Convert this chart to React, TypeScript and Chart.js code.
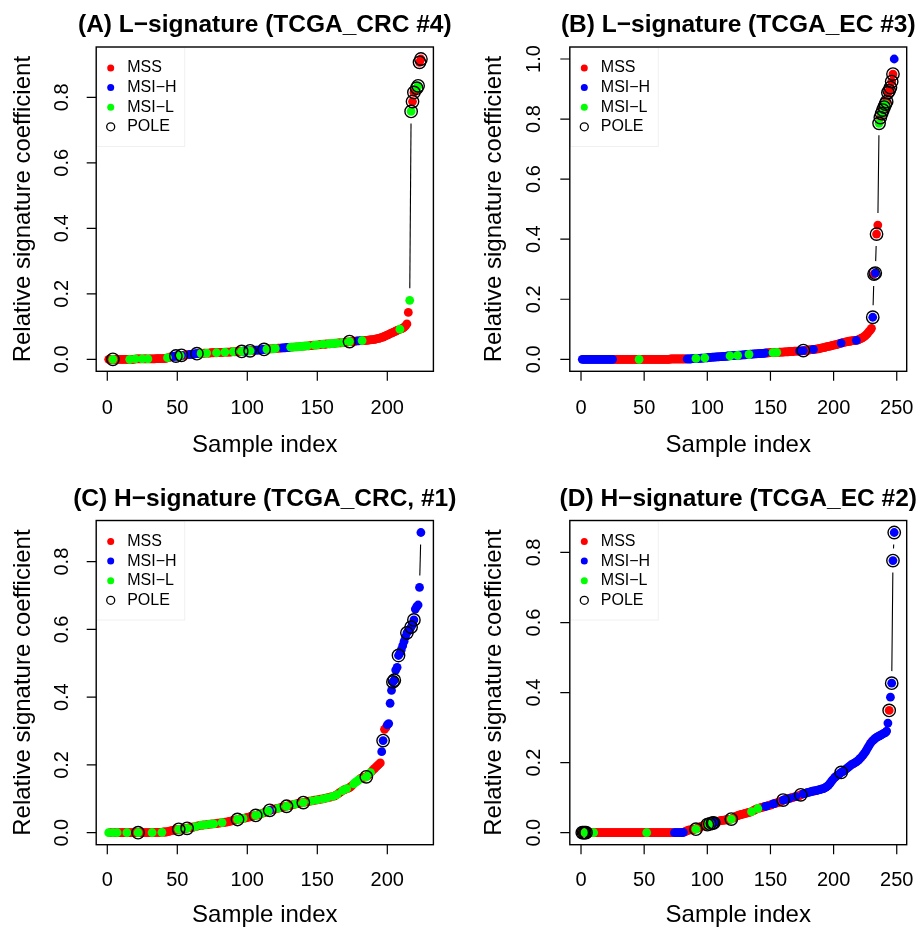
import React, { useEffect, useRef } from "react";
import { Chart, registerables } from "chart.js";
Chart.register(...registerables);

const FONT = '"Liberation Sans", Arial, Helvetica, sans-serif';

// ---------------- Panel A: L-signature (TCGA_CRC #4) ----------------
const valuesA = [
  0, 0, 0, 0, 0, 0, 0, 0, 0, 0,
  0, 0, 0, 0, 0, 0, 0, 0, 0, 0.001,
  0.001, 0.001, 0.001, 0.001, 0.001, 0.001, 0.001, 0.001, 0.001, 0.001,
  0.001, 0.001, 0.001, 0.001, 0.002, 0.002, 0.002, 0.002, 0.002, 0.002, 0.003, 0.003,
  0.005, 0.006, 0.007, 0.008, 0.009, 0.009, 0.010,
  0.010, 0.011, 0.011, 0.012, 0.012, 0.013, 0.013, 0.014, 0.014, 0.015, 0.015, 0.016, 0.016, 0.017, 0.017,
  0.018, 0.018, 0.018, 0.018, 0.019, 0.019, 0.019, 0.019, 0.019, 0.020, 0.020, 0.020, 0.020, 0.020, 0.021, 0.021,
  0.021, 0.021, 0.021, 0.022, 0.022, 0.022, 0.022, 0.022, 0.023, 0.023, 0.023, 0.023, 0.023, 0.024, 0.024,
  0.024, 0.025, 0.025, 0.025, 0.026, 0.026, 0.026, 0.027, 0.027, 0.027, 0.028, 0.028, 0.028, 0.029, 0.029, 0.030, 0.030, 0.031,
  0.031, 0.031, 0.032, 0.032, 0.032, 0.033, 0.033, 0.033, 0.034, 0.034, 0.034, 0.035, 0.035, 0.035, 0.036, 0.036, 0.036,
  0.037, 0.037, 0.037, 0.038, 0.038, 0.038, 0.039, 0.039, 0.039, 0.040, 0.040, 0.041, 0.041, 0.041, 0.042, 0.042,
  0.043, 0.043, 0.043, 0.044, 0.044, 0.045, 0.045, 0.046,
  0.046, 0.046, 0.047, 0.047, 0.047, 0.048, 0.048, 0.048, 0.049, 0.049, 0.050, 0.050, 0.050, 0.051, 0.051, 0.052, 0.052, 0.053, 0.054,
  0.054, 0.055, 0.055, 0.055, 0.056, 0.056, 0.056, 0.057, 0.057, 0.057, 0.058, 0.058, 0.058, 0.059, 0.059, 0.060, 0.060,
  0.061, 0.062, 0.063, 0.064, 0.065, 0.067, 0.068, 0.070, 0.072, 0.074,
  0.076, 0.078, 0.080, 0.082, 0.084, 0.086, 0.088, 0.090, 0.092, 0.093,
  0.095, 0.098, 0.102, 0.108,
  0.143, 0.180, 0.757, 0.787, 0.815, 0.822, 0.828, 0.835, 0.907, 0.917,
];
const msiHA = [47, 48, 49, 50, 51, 53, 59, 60, 61, 62, 63, 64, 97, 98, 99, 100, 101, 106, 107, 108, 109, 110, 111, 112, 125, 126, 127, 128, 129, 130, 179, 181];
const msiLA = [4, 16, 20, 25, 29, 43, 52, 67, 71, 78, 84, 90, 96, 102, 114, 118, 120, 131, 133, 134, 136, 137, 139, 140, 142, 143, 148, 150, 154, 158, 160, 161, 163, 164, 168, 173, 182, 209, 216, 217, 221, 222];
const poleA = [4, 49, 53, 64, 96, 102, 112, 173, 217, 218, 219, 221, 222, 223, 224];

// ---------------- Panel B: L-signature (TCGA_EC #3) ----------------
const valuesB = [
  0, 0, 0, 0, 0, 0, 0, 0, 0, 0, 0, 0, 0, 0, 0, 0, 0, 0, 0, 0, 0, 0, 0, 0, 0,
  0, 0, 0, 0, 0, 0, 0, 0, 0, 0, 0, 0, 0, 0, 0, 0, 0, 0, 0, 0, 0, 0, 0, 0, 0, 0, 0, 0, 0, 0, 0, 0, 0, 0, 0,
  0, 0, 0, 0, 0, 0, 0, 0, 0, 0,
  0.001, 0.001, 0.001, 0.001, 0.001, 0.001, 0.001, 0.001, 0.001, 0.001, 0.001, 0.001, 0.001, 0.001, 0.001,
  0.001, 0.001, 0.002, 0.002, 0.002, 0.003, 0.003, 0.003, 0.003, 0.004, 0.004, 0.004, 0.005, 0.005, 0.005,
  0.006, 0.006, 0.006, 0.007, 0.007, 0.007, 0.008, 0.008, 0.008, 0.009, 0.009, 0.009, 0.010, 0.010, 0.010,
  0.011, 0.011, 0.011, 0.012, 0.012, 0.012, 0.013, 0.013, 0.013, 0.014,
  0.014, 0.014, 0.015, 0.015, 0.015, 0.016, 0.016, 0.016, 0.017, 0.017, 0.017, 0.018, 0.018, 0.018, 0.019,
  0.019, 0.019, 0.020, 0.020, 0.020, 0.021, 0.021, 0.021, 0.022, 0.022,
  0.022, 0.022, 0.023, 0.023, 0.023, 0.023, 0.024, 0.024, 0.024, 0.024, 0.025, 0.025, 0.025, 0.025, 0.026,
  0.026, 0.026, 0.026, 0.027, 0.027, 0.027, 0.027, 0.028, 0.028, 0.028, 0.029,
  0.029, 0.030, 0.030, 0.031, 0.031, 0.032, 0.032, 0.033, 0.033, 0.034, 0.035, 0.035, 0.036, 0.037, 0.038,
  0.039, 0.040, 0.041, 0.042, 0.043, 0.044, 0.045, 0.046, 0.047, 0.048, 0.049, 0.050, 0.051, 0.053,
  0.054, 0.055, 0.056, 0.057, 0.058, 0.059, 0.060, 0.060, 0.061, 0.062, 0.062, 0.063, 0.063, 0.064,
  0.066, 0.068, 0.070, 0.072, 0.075, 0.078, 0.082, 0.087, 0.092, 0.097, 0.103,
  0.140, 0.284, 0.287, 0.417,
  0.447, 0.786, 0.805, 0.818, 0.830, 0.840, 0.850, 0.858, 0.888, 0.895, 0.905, 0.925, 0.950, 1.000,
];
const msiHB = [
  1, 2, 3, 4, 5, 6, 7, 8, 9, 10, 11, 12, 13, 14, 15, 16, 17, 18, 19, 20, 21, 22, 23, 24, 25,
  84, 85, 86, 87, 88, 89, 90, 92, 93, 94, 95, 96, 97, 99, 100, 101, 102, 104, 105, 106, 107, 108, 109,
  111, 112, 113, 114, 115, 116, 117, 119, 120, 121, 122, 123, 125, 126, 128, 129, 130, 131, 132,
  134, 135, 136, 137, 138, 140, 141, 142, 143, 144, 145, 146, 173, 176, 184, 206, 218, 231, 233, 248,
];
const msiLB = [46, 91, 98, 118, 124, 133, 152, 155, 236, 238, 240, 241];
const poleB = [176, 231, 232, 233, 234, 236, 237, 238, 239, 240, 241, 242, 243, 244, 245, 246, 247];

// ---------------- Panel C: H-signature (TCGA_CRC, #1) ----------------
const valuesC = [
  0, 0, 0, 0, 0, 0, 0, 0, 0, 0, 0, 0, 0, 0, 0, 0, 0, 0, 0, 0, 0, 0, 0, 0, 0, 0, 0, 0, 0, 0,
  0, 0, 0, 0.001, 0.001, 0.001, 0.001, 0.001, 0.001, 0.002, 0.002, 0.002, 0.003,
  0.004, 0.005, 0.006, 0.007, 0.008, 0.008, 0.009, 0.010, 0.010, 0.011, 0.011, 0.012, 0.012, 0.013,
  0.014, 0.015, 0.016, 0.016, 0.017, 0.018, 0.019, 0.020, 0.021, 0.022, 0.022, 0.023, 0.023, 0.024, 0.024, 0.025, 0.025, 0.026,
  0.026, 0.027, 0.027, 0.028, 0.028, 0.029, 0.030, 0.030, 0.031, 0.031, 0.032, 0.033, 0.034, 0.035, 0.036, 0.037, 0.038, 0.039,
  0.040, 0.041, 0.042, 0.042, 0.043, 0.044, 0.045, 0.046, 0.047, 0.048, 0.049, 0.050, 0.051, 0.052, 0.053, 0.055, 0.056, 0.058,
  0.059, 0.061, 0.062, 0.064, 0.066,
  0.067, 0.068, 0.069, 0.070, 0.071, 0.072, 0.073, 0.074, 0.075, 0.076, 0.077, 0.078, 0.079, 0.080, 0.081, 0.082, 0.083, 0.084,
  0.085, 0.086, 0.087, 0.088, 0.088, 0.089,
  0.090, 0.091, 0.092, 0.093, 0.093, 0.094, 0.095, 0.096, 0.096, 0.097, 0.098, 0.099, 0.099, 0.100, 0.101, 0.102, 0.103, 0.104,
  0.105, 0.106, 0.107, 0.108,
  0.110, 0.112, 0.115, 0.118, 0.121, 0.124, 0.126, 0.128, 0.130, 0.131, 0.133, 0.136, 0.140, 0.144, 0.148, 0.151, 0.154, 0.157,
  0.160, 0.162, 0.163, 0.164, 0.165, 0.168, 0.172, 0.177, 0.182, 0.186, 0.190, 0.194, 0.198, 0.202, 0.206,
  0.239, 0.272, 0.305, 0.310, 0.318, 0.322, 0.382, 0.420, 0.445, 0.450, 0.480, 0.488, 0.523, 0.530, 0.540, 0.552, 0.565, 0.578,
  0.590, 0.595, 0.600, 0.607, 0.615, 0.628, 0.660, 0.667, 0.672, 0.724, 0.886,
];
const msiHC = [116, 196, 197, 200, 201, 202, 203, 204, 205, 206, 207, 208, 209, 210, 211, 212, 213, 214, 215, 216, 217, 218, 219, 220, 221, 222, 223, 224];
const msiLC = [1, 4, 7, 14, 22, 32, 39, 51, 57, 63, 67, 70, 73, 76, 82, 93, 97, 106, 110, 115, 122, 128, 134, 140, 146, 150, 154, 157, 161, 164, 168, 171, 176, 177, 178, 179, 180, 185, 188];
const poleC = [22, 51, 57, 93, 106, 116, 128, 140, 185, 197, 204, 205, 208, 214, 217, 219];

// ---------------- Panel D: H-signature (TCGA_EC #2) ----------------
const valuesD = [
  0, 0, 0, 0, 0, 0, 0, 0, 0, 0, 0, 0, 0, 0, 0, 0, 0, 0, 0, 0, 0, 0, 0, 0, 0, 0, 0, 0, 0, 0, 0, 0, 0, 0, 0, 0, 0, 0, 0, 0,
  0, 0, 0, 0, 0, 0, 0, 0, 0, 0, 0, 0, 0, 0, 0, 0, 0, 0, 0, 0, 0, 0, 0, 0, 0, 0, 0, 0, 0, 0, 0, 0, 0, 0, 0, 0, 0, 0, 0, 0,
  0.001, 0.002, 0.004,
  0.006, 0.007, 0.008, 0.008, 0.009, 0.009, 0.010, 0.010,
  0.012, 0.014, 0.016, 0.018, 0.019, 0.020, 0.021, 0.022, 0.023, 0.024, 0.025, 0.026, 0.027, 0.028, 0.030,
  0.031, 0.032, 0.033, 0.034, 0.035, 0.035, 0.036, 0.036, 0.037, 0.037, 0.038, 0.038, 0.039,
  0.041, 0.043, 0.045, 0.047, 0.049, 0.050, 0.051, 0.052, 0.053, 0.054, 0.055, 0.056, 0.057, 0.058, 0.059, 0.060,
  0.062, 0.064, 0.066, 0.068, 0.069, 0.070, 0.071, 0.072, 0.073, 0.074, 0.075, 0.076, 0.077, 0.078, 0.079, 0.080,
  0.082, 0.083, 0.084, 0.085, 0.086, 0.088, 0.089, 0.091, 0.093,
  0.094, 0.095, 0.096, 0.097, 0.098, 0.099, 0.100, 0.101, 0.102, 0.103, 0.104, 0.105, 0.106, 0.108, 0.110,
  0.111, 0.112, 0.113, 0.114, 0.115, 0.116, 0.117, 0.118, 0.119, 0.119, 0.120, 0.121, 0.122, 0.123, 0.124, 0.125,
  0.126, 0.128, 0.130, 0.133, 0.136, 0.140, 0.145,
  0.150, 0.154, 0.158, 0.161, 0.164, 0.166, 0.169, 0.172,
  0.174, 0.176, 0.179, 0.182, 0.185, 0.188, 0.191, 0.194, 0.196, 0.198, 0.200, 0.202, 0.205, 0.208, 0.212,
  0.216, 0.220, 0.225, 0.230, 0.236, 0.242, 0.248, 0.254, 0.259, 0.263, 0.266, 0.269, 0.272, 0.274, 0.276, 0.278,
  0.280, 0.282, 0.284, 0.286, 0.290, 0.313,
  0.349, 0.387, 0.427, 0.777, 0.857,
];
const msiHD = [
  74, 75, 76, 77, 78, 79, 80, 81, 103, 104, 105, 107, 146, 147, 152, 153, 160, 161, 165, 170,
  176, 177, 178, 179, 180, 181, 182, 183, 184, 186, 187, 188, 189, 190, 191, 192, 193, 194, 195, 196, 197, 198, 199,
  201, 202, 203, 204, 205, 206, 207, 208, 209, 210, 211, 212, 213, 214, 216, 217, 218, 219, 220, 221,
  223, 224, 225, 226, 227, 228, 229, 231, 232, 233, 234, 235, 236, 237, 238, 239, 240, 241, 242, 243,
  245, 246, 247, 248,
];
const msiLD = [3, 10, 52, 91, 100, 102, 119, 135, 140];
const poleD = [1, 2, 3, 4, 91, 100, 102, 104, 105, 119, 160, 174, 206, 244, 246, 247, 248];

const titles = [
  "(A) L\u2212signature (TCGA_CRC #4)",
  "(B) L\u2212signature (TCGA_EC #3)",
  "(C) H\u2212signature (TCGA_CRC, #1)",
  "(D) H\u2212signature (TCGA_EC #2)",
];
const xTicksCRC = [0, 50, 100, 150, 200];
const xTicksEC = [0, 50, 100, 150, 200, 250];
const yTicks08 = [0, 0.2, 0.4, 0.6, 0.8];
const yTicks10 = [0, 0.2, 0.4, 0.6, 0.8, 1.0];
const legendLabels = ["MSS", "MSI\u2212H", "MSI\u2212L", "POLE"];
const colMSS = "#ff0000";
const colH = "#0000ff";
const colL = "#00ff00";

type PanelCfg = {
  values: number[]; msiH: number[]; msiL: number[]; pole: number[];
  title: string; xTicks: number[]; yTicks: number[];
  left: number; top: number; width: number; height: number;
  pad: { left: number; right: number; top: number; bottom: number };
  yLab: number; yTitle: number; xLab: number; xTitle: number;
};

const panels: PanelCfg[] = [
  { values: valuesA, msiH: msiHA, msiL: msiLA, pole: poleA, title: titles[0], xTicks: xTicksCRC, yTicks: yTicks08,
    left: 0, top: 0, width: 460, height: 465, pad: { left: 96.2, right: 26.6, top: 47, bottom: 93.7 },
    yLab: 34, yTitle: 66.5, xLab: 37, xTitle: 81 },
  { values: valuesB, msiH: msiHB, msiL: msiLB, pole: poleB, title: titles[1], xTicks: xTicksEC, yTicks: yTicks10,
    left: 460, top: 0, width: 461, height: 465, pad: { left: 109.8, right: 14.3, top: 47, bottom: 93.7 },
    yLab: 35.5, yTitle: 68.5, xLab: 37, xTitle: 81 },
  { values: valuesC, msiH: msiHC, msiL: msiLC, pole: poleC, title: titles[2], xTicks: xTicksCRC, yTicks: yTicks08,
    left: 0, top: 465, width: 460, height: 464, pad: { left: 96.2, right: 26.6, top: 55.5, bottom: 84.3 },
    yLab: 34, yTitle: 66.5, xLab: 35.5, xTitle: 77 },
  { values: valuesD, msiH: msiHD, msiL: msiLD, pole: poleD, title: titles[3], xTicks: xTicksEC, yTicks: yTicks08,
    left: 460, top: 465, width: 461, height: 464, pad: { left: 109.8, right: 14.3, top: 55.5, bottom: 84.3 },
    yLab: 35.5, yTitle: 68.5, xLab: 35.5, xTitle: 77 },
];

const GAP = 12;

function Panel({ cfg }: { cfg: PanelCfg }) {
  const ref = useRef<HTMLCanvasElement>(null);
  useEffect(() => {
    const { values, msiH, msiL, pole } = cfg;
    const n = values.length;
    const pts = values.map((v, i) => ({ x: i + 1, y: v }));
    const hSet = new Set(msiH);
    const lSet = new Set(msiL);
    const pSet = new Set(pole);
    const mss = pts.filter((p) => !hSet.has(p.x) && !lSet.has(p.x));
    const hPts = pts.filter((p) => hSet.has(p.x));
    const lPts = pts.filter((p) => lSet.has(p.x));
    const pPts = pts.filter((p) => pSet.has(p.x));
    const ymin = Math.min(...values);
    const ymax = Math.max(...values);
    const xr = n - 1;
    const yr = ymax - ymin;

    const rPlot = {
      id: "rplot",
      beforeDatasetsDraw(chart: any) {
        const { ctx } = chart;
        const xs = chart.scales.x;
        const ys = chart.scales.y;
        ctx.save();
        ctx.strokeStyle = "#000";
        ctx.lineWidth = 1.1;
        ctx.beginPath();
        for (let i = 0; i < pts.length - 1; i++) {
          const x1 = xs.getPixelForValue(pts[i].x);
          const y1 = ys.getPixelForValue(pts[i].y);
          const x2 = xs.getPixelForValue(pts[i + 1].x);
          const y2 = ys.getPixelForValue(pts[i + 1].y);
          const dx = x2 - x1;
          const dy = y2 - y1;
          const d = Math.hypot(dx, dy);
          if (d > 2 * GAP) {
            const ux = dx / d;
            const uy = dy / d;
            ctx.moveTo(x1 + ux * GAP, y1 + uy * GAP);
            ctx.lineTo(x2 - ux * GAP, y2 - uy * GAP);
          }
        }
        ctx.stroke();
        ctx.restore();
      },
      afterDraw(chart: any) {
        const { ctx, chartArea: ca } = chart;
        const xs = chart.scales.x;
        const ys = chart.scales.y;
        ctx.save();
        // legend
        const lw = 88;
        const lh = 99;
        ctx.fillStyle = "#ffffff";
        ctx.fillRect(ca.left, ca.top, lw, lh);
        ctx.strokeStyle = "#f0f0f0";
        ctx.lineWidth = 1;
        ctx.strokeRect(ca.left + 0.5, ca.top + 0.5, lw, lh);
        const cols = [colMSS, colH, colL];
        ctx.font = `16px ${FONT}`;
        ctx.textBaseline = "middle";
        ctx.textAlign = "left";
        legendLabels.forEach((lab, k) => {
          const cy = ca.top + 21 + 19.6 * k;
          const cx = ca.left + 14.5;
          ctx.beginPath();
          ctx.arc(cx, cy, k < 3 ? 3.5 : 4, 0, Math.PI * 2);
          if (k < 3) {
            ctx.fillStyle = cols[k];
            ctx.fill();
          } else {
            ctx.strokeStyle = "#000";
            ctx.lineWidth = 1.3;
            ctx.stroke();
          }
          ctx.fillStyle = "#000";
          ctx.fillText(lab, ca.left + 31, cy);
        });
        // box
        ctx.strokeStyle = "#000";
        ctx.lineWidth = 1.4;
        ctx.strokeRect(ca.left, ca.top, ca.right - ca.left, ca.bottom - ca.top);
        // ticks
        ctx.lineWidth = 1.2;
        ctx.beginPath();
        cfg.xTicks.forEach((t) => {
          const px = xs.getPixelForValue(t);
          ctx.moveTo(px, ca.bottom);
          ctx.lineTo(px, ca.bottom + 9.5);
        });
        cfg.yTicks.forEach((t) => {
          const py = ys.getPixelForValue(t);
          ctx.moveTo(ca.left, py);
          ctx.lineTo(ca.left - 9.5, py);
        });
        ctx.stroke();
        ctx.fillStyle = "#000";
        ctx.font = `20px ${FONT}`;
        ctx.textAlign = "center";
        ctx.textBaseline = "middle";
        cfg.xTicks.forEach((t) => {
          ctx.fillText(String(t), xs.getPixelForValue(t), ca.bottom + cfg.xLab);
        });
        cfg.yTicks.forEach((t) => {
          const py = ys.getPixelForValue(t);
          ctx.save();
          ctx.translate(ca.left - cfg.yLab, py);
          ctx.rotate(-Math.PI / 2);
          ctx.fillText(t.toFixed(1), 0, 0);
          ctx.restore();
        });
        // axis titles
        ctx.font = `24px ${FONT}`;
        ctx.textBaseline = "alphabetic";
        ctx.fillText("Sample index", (ca.left + ca.right) / 2, ca.bottom + cfg.xTitle);
        ctx.save();
        ctx.translate(ca.left - cfg.yTitle, (ca.top + ca.bottom) / 2);
        ctx.rotate(-Math.PI / 2);
        ctx.fillText("Relative signature coefficient", 0, 0);
        ctx.restore();
        // main title
        ctx.font = `bold 24.5px ${FONT}`;
        ctx.fillText(cfg.title, (ca.left + ca.right) / 2, ca.top - 14.7);
        ctx.restore();
      },
    };

    const base = { pointBorderWidth: 0, pointRadius: 4.4, pointHoverRadius: 4.4 };
    const chart = new Chart(ref.current as HTMLCanvasElement, {
      type: "scatter",
      data: {
        datasets: [
          { label: "POLE", data: pPts, pointRadius: 6.2, pointHoverRadius: 6.2, pointBackgroundColor: "rgba(0,0,0,0)", pointBorderColor: "#000", pointBorderWidth: 1.4 },
          { label: "MSI-L", data: lPts, ...base, pointBackgroundColor: colL, pointBorderColor: colL },
          { label: "MSI-H", data: hPts, ...base, pointBackgroundColor: colH, pointBorderColor: colH },
          { label: "MSS", data: mss, ...base, pointBackgroundColor: colMSS, pointBorderColor: colMSS },
        ],
      } as any,
      options: {
        responsive: false,
        maintainAspectRatio: false,
        animation: false,
        events: [],
        layout: { padding: cfg.pad },
        plugins: { legend: { display: false }, tooltip: { enabled: false }, title: { display: false } },
        scales: {
          x: { type: "linear", display: false, min: 1 - 0.04 * xr, max: n + 0.04 * xr },
          y: { type: "linear", display: false, min: ymin - 0.04 * yr, max: ymax + 0.04 * yr },
        },
      } as any,
      plugins: [rPlot as any],
    });
    return () => chart.destroy();
  }, [cfg]);

  return (
    <canvas
      ref={ref}
      width={cfg.width}
      height={cfg.height}
      style={{ position: "absolute", left: cfg.left, top: cfg.top, width: cfg.width, height: cfg.height }}
    />
  );
}

export default function App() {
  return (
    <div style={{ position: "absolute", left: 0, top: 0, width: 921, height: 929, background: "#fff" }}>
      {panels.map((p, i) => (
        <Panel key={i} cfg={p} />
      ))}
    </div>
  );
}
